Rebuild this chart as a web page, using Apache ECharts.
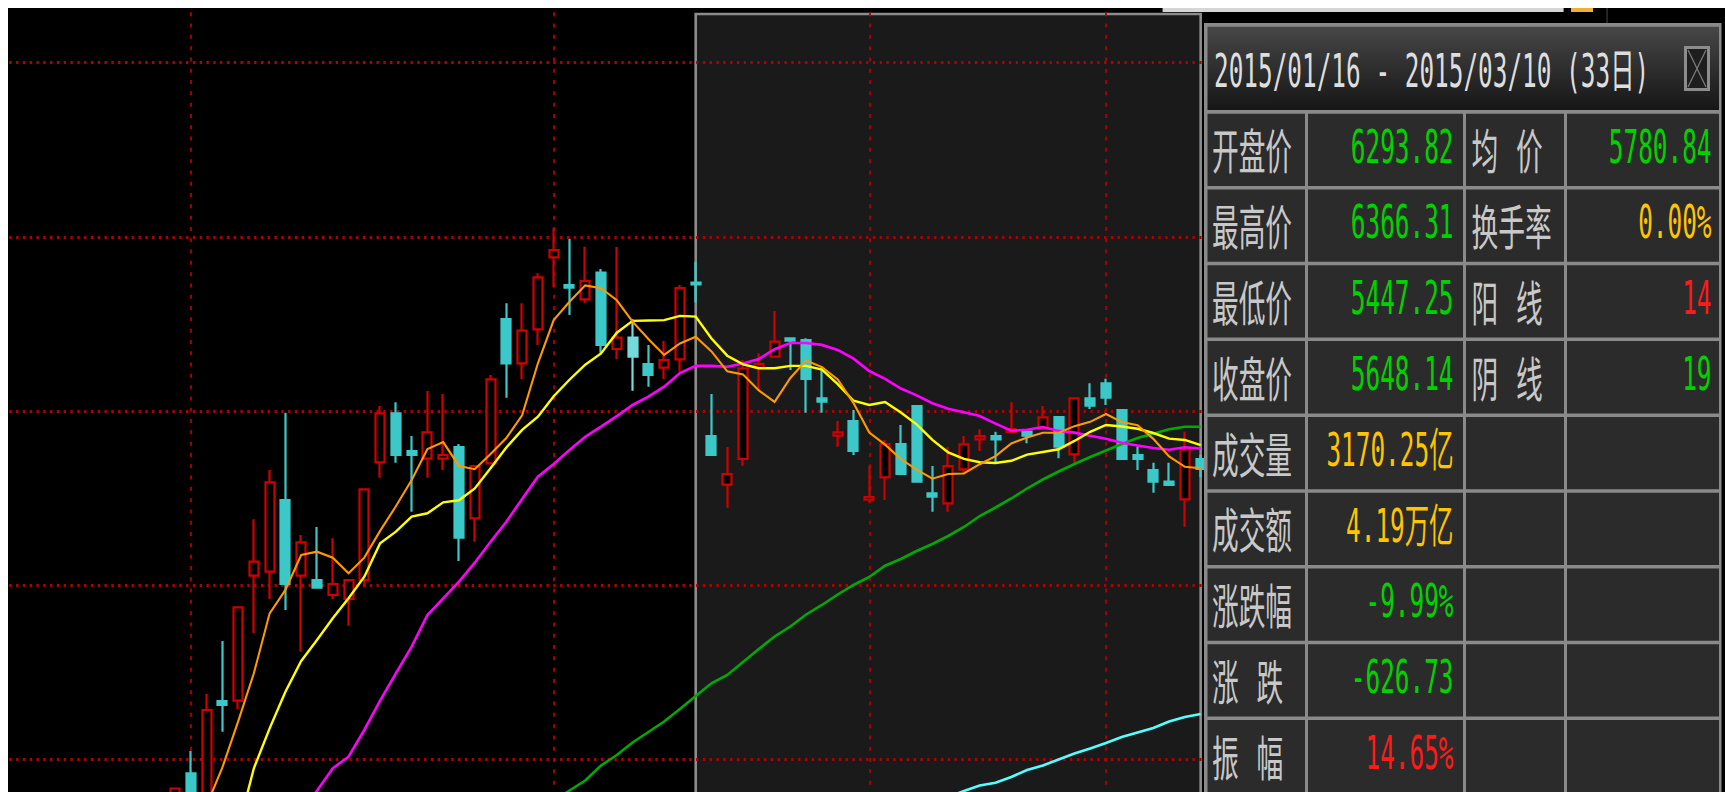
<!DOCTYPE html>
<html lang="zh-CN">
<head>
<meta charset="utf-8">
<title>区间统计 K线</title>
<script src="https://cdn.jsdelivr.net/npm/echarts@6.0.0/dist/echarts.min.js"></script>
<style>
html,body{margin:0;padding:0;background:#000;overflow:hidden;}
#chart{width:1725px;height:792px;}
</style>
</head>
<body>
<div id="chart"></div>
<script>
// ================= DATA =================
const dates = [
  '2014/11/14','2014/11/17','2014/11/18','2014/11/19','2014/11/20','2014/11/21','2014/11/24','2014/11/25','2014/11/26','2014/11/27','2014/11/28',
  '2014/12/01','2014/12/02','2014/12/03','2014/12/04','2014/12/05','2014/12/08','2014/12/09','2014/12/10','2014/12/11','2014/12/12',
  '2014/12/15','2014/12/16','2014/12/17','2014/12/18','2014/12/19','2014/12/22','2014/12/23','2014/12/24','2014/12/25','2014/12/26',
  '2014/12/29','2014/12/30','2014/12/31',
  '2015/01/05','2015/01/06','2015/01/07','2015/01/08','2015/01/09','2015/01/12','2015/01/13','2015/01/14','2015/01/15','2015/01/16',
  '2015/01/19','2015/01/20','2015/01/21','2015/01/22','2015/01/23','2015/01/26','2015/01/27','2015/01/28','2015/01/29','2015/01/30',
  '2015/02/02','2015/02/03','2015/02/04','2015/02/05','2015/02/06','2015/02/09','2015/02/10','2015/02/11','2015/02/12','2015/02/13',
  '2015/02/16','2015/02/17','2015/02/25','2015/02/26','2015/02/27',
  '2015/03/02','2015/03/03','2015/03/04','2015/03/05','2015/03/06','2015/03/09','2015/03/10'
];

// [open, close, low, high]
const candleStart = '2014/11/28';
const candles = [
  [4482.2,4539.4,4457.9,4539.4],[4592.1,4482.2,4471.8,4669.4],[4482.2,4811.6,4440.0,4867.1],[4842.8,4829.0,4736.4,5050.9],
  [4843.9,5167.8,4815.1,5167.8],[5277.4,5325.9,5077.6,5473.0],[5291.3,5601.3,5196.6,5643.9],[5539.9,5248.6,5158.4,5842.7],
  [5277.4,5393.2,5013.8,5418.5],[5262.5,5235.8,5235.8,5446.3],[5210.4,5248.6,5196.6,5407.1],[5196.6,5262.5,5104.0,5262.5],
  [5262.5,5577.0,5239.2,5577.0],[5670.7,5840.6,5617.2,5865.9],[5840.6,5696.0,5669.3,5878.7],[5709.8,5696.0,5499.3,5761.9],
  [5683.1,5774.7,5617.2,5917.9],[5683.1,5696.0,5643.9,5907.5],[5723.7,5409.2,5328.4,5734.1],[5476.4,5657.8,5395.3,5657.8],
  [5667.2,5958.5,5667.2,5973.4],[6167.6,6014.0,5894.7,6222.1],[6014.0,6127.0,5959.5,6222.1],[6131.9,6312.2,6077.4,6326.1],
  [6381.6,6406.9,6277.5,6482.2],[6285.5,6276.2,6181.5,6445.0],[6235.9,6299.4,6224.1,6418.3],[6328.2,6077.4,6050.7,6341.0],
  [6063.6,6102.8,6027.8,6417.3],[6102.8,6036.9,5919.0,6166.6],[6011.5,5973.4,5932.8,6077.4],[5998.7,6025.4,5959.5,6091.3],
  [6027.8,6274.87,5984.8,6285.5],[6293.82,6287.9,6224.8,6366.31],[5761.9,5696.0,5696.0,5907.5],[5593.0,5630.1,5513.2,5723.7],
  [5682.1,5995.9,5658.9,6025.4],[5998.7,6011.5,5921.4,6048.7],[6036.9,6088.9,6036.9,6195.4],[6100.7,6092.4,5990.7,6100.7],
  [6094.8,5959.5,5842.7,6100.7],[5892.6,5880.8,5842.7,6002.2],[5762.9,5774.7,5724.7,5813.9],[5813.9,5709.8,5696.0,5852.0],
  [5540.9,5550.3,5528.5,5658.9],[5618.6,5734.1,5539.9,5748.0],[5734.1,5630.1,5630.1,5800.0],[5865.9,5603.4,5603.4,5865.9],
  [5563.1,5551.3,5499.3,5657.8],[5528.5,5657.8,5499.3,5722.7],[5646.4,5733.1,5632.5,5761.9],[5750.4,5761.9,5709.8,5785.1],
  [5761.9,5750.4,5667.2,5776.8],[5775.7,5786.1,5772.3,5878.7],[5776.8,5762.9,5736.5,5776.8],[5788.6,5826.7,5788.6,5865.9],
  [5827.7,5724.7,5684.5,5827.7],[5698.4,5892.6,5669.3,5892.6],[5892.6,5866.9,5855.5,5944.6],[5944.6,5894.7,5869.4,5960.6],
  [5852.0,5682.1,5682.1,5852.0],[5696.0,5682.1,5643.9,5724.7],[5643.9,5603.4,5565.2,5669.3],[5603.4,5591.9,5591.9,5669.3],
  [5542.3,5715.7,5447.25,5776.8],[5682.1,5648.14,5619.7,5696.0]
];

const ma5Start = '2014/12/02';
const ma5 = [4480,4611.5,4771.0,4938.9,5146.9,5228,5349.2,5360.6,5339.8,5285.7,
  5340,5432.9,5518,5609,5716.9,5740.7,5658,5646.7,5699.2,5755,
  5833.3,6013.9,6163.7,6227.3,6284.3,6274.4,6232.5,6158.5,6098.0,6043.2,
  6082.7,6106,6055,5986,5975,5920,5880,5963,6024,6001,
  5958,5876,5774,5732,5682,5645,5613.8,5630,5632,5664,
  5692,5736,5757,5773,5773,5796,5811,5838,5810,5799,
  5752,5690.8,5655,5650];

const ma10Start = '2014/12/04';
const ma10 = [4398,4609.4,4748.0,4875.1,4981.6,5054.4,5129.6,5198.9,5273.9,5389.7,
  5430.0,5482.0,5493.8,5531.9,5539,5580,5650,5722,5783,5829,
  5900,5957,6009,6048,6120,6161.1,6162.6,6163.8,6178.5,6176.1,
  6100,6040.4,6010.1,5997,5997,6005,6005,5991.8,5941.8,5884.0,
  5869.4,5879.8,5843.2,5802.4,5748.6,5705.2,5682.5,5670.7,5668.2,5675.9,
  5697.1,5706.4,5715.8,5744.8,5776.3,5800.0,5794.9,5786.9,5772.2,5752.8,
  5748.1,5730.2];

const ma20Start = '2014/12/10';
const ma20 = [4458,4531.8,4609.4,4649.7,4742.3,4843.9,4938.9,5031.2,5141.1,5198.9,
  5256.6,5322.5,5395.3,5464.6,5543.4,5620.7,5664.7,5713.3,5759.4,5794.1,
  5831,5869.4,5898.1,5932.8,5980,6005.1,6005.1,6001.8,6012.9,6028.7,
  6062.7,6084.4,6084.4,6077.8,6060.2,6030.0,5987.2,5960.1,5926.6,5902.9,
  5875.4,5856.4,5844.4,5831.2,5805.0,5779.9,5783.3,5793.1,5779.5,5773.6,
  5762.5,5752.6,5738.7,5728.8,5720.2,5714.3,5722.6,5718.3];

const ma60Start = '2015/01/05';
const ma60 = [4496,4532.4,4567.1,4619.1,4655.6,4699.0,4735.3,4771.7,4815.1,4860.2,
  4904.2,4933.0,4978.1,5023.2,5066.5,5101.2,5142.8,5175.8,5212.2,5245.1,
  5272.9,5312.1,5335.3,5363.0,5387.3,5415.1,5446.3,5484.4,5513.9,5545.1,
  5579.8,5611.0,5638.7,5664.7,5689.0,5711.6,5734.1,5754.9,5770,5785,
  5794.1,5794.1];

const ma120Start = '2015/02/09';
const ma120 = [4510,4530.7,4549.8,4559.5,4579.3,4603.5,4619.1,4640.0,4660.8,4678.1,
  4697.2,4718.0,4733.6,4749.2,4771.7,4787.3,4797.7];

const gridPrices = [4639.3, 5243.6, 5847.9, 6452.2, 7056.5];
const monthStarts = ['2014/12/01','2015/01/05','2015/02/02','2015/03/02'];
const rangeStart = '2015/01/16';
const rangeEnd = '2015/03/10';
const highlightDate = '2015/01/12';

const rangeTitle = '2015/01/16 - 2015/03/10 (33日)';
const statLabels = ['开盘价','最高价','最低价','收盘价','成交量','成交额','涨跌幅','涨  跌','振  幅'];
const statValues = ['6293.82','6366.31','5447.25','5648.14','3170.25亿','4.19万亿','-9.99%','-626.73','14.65%'];
const extraLabels = ['均  价','换手率','阳  线','阴  线'];
const extraValues = ['5780.84','0.00%','14','19'];

// ================= STYLE / LAYOUT =================
const C = {
  up: '#d00000', down: '#3cc8c8', downHi: '#74dada', hollow: '#000',
  ma5: '#ff9900', ma10: '#ffff00', ma20: '#ff00ff', ma60: '#00aa00', ma120: '#55ffff',
  grid: '#b40000', selFill: '#1a1a1a', selBorder: '#8c8c8c',
  panelLine: '#8a8a8a', cell: '#2b2b2b', label: '#c8c8c8', title: '#dedede',
  tone: { down: '#00d200', flat: '#ffc400', up: '#ff1a1a' }
};
const statTone = ['down','down','down','down','flat','flat','down','down','up'];
const extraTone = ['down','flat','up','down'];

// plot area runs past the bottom of the window (the view is cropped there)
const Y_MIN = 4200, Y_MAX = 7246.15;
const GRID_TOP = 8, GRID_H = 878.36;
const BAND = 15.78, GRID_LEFT = 9.27;
const SEL_TOP_PX = 14;

function align(start, values) {
  const i0 = dates.indexOf(start);
  return dates.map((d, i) => (i >= i0 && i - i0 < values.length) ? values[i - i0] : '-');
}
const candleData = align(candleStart, candles).map((v, i) => {
  if (v === '-') return ['-', '-', '-', '-'];
  if (dates[i] === highlightDate) return { value: v, itemStyle: { color0: C.downHi, borderColor0: C.downHi } };
  return v;
});
const pxToPrice = px => Y_MAX - (px - GRID_TOP) * (Y_MAX - Y_MIN) / GRID_H;

function maSeries(name, start, values, color, width) {
  return {
    name, type: 'line', data: align(start, values), z: 4, silent: true,
    showSymbol: false, symbol: 'none', connectNulls: false,
    lineStyle: { color, width, cap: 'butt', join: 'miter' }
  };
}

// ================= PANEL (graphic) =================
const FONT_LABEL = { font: '48px "Noto Sans CJK SC"', sx: 0.556 };
const FONT_VALUE = { font: '46px "DejaVu Sans Mono", "Noto Sans CJK SC"', sx: 0.53 };
const PANEL = { x0: 1204, y0: 23, x1: 1721.5, y1: 800, titleTop: 26.7, titleBottom: 110,
  cols: [[1207.5, 1305], [1308, 1463], [1466, 1564], [1567, 1719]],
  rowTop: 113.7, rowStep: 75.8, rowH: 72.3 };

function text(x, y, str, fill, f, al) {
  return { type: 'text', x, y, scaleX: f.sx, scaleY: 1, z: 103, silent: true,
    style: { text: str, fill, font: f.font, align: al, verticalAlign: 'middle',
             textAlign: al, textVerticalAlign: 'middle' } };
}
const sp = s => s.replace(/ /g, '\u2004');

const g = [];
g.push({ type: 'rect', z: 110, silent: true, shape: { x: 0, y: 0, width: 1725, height: 8 }, style: { fill: '#ffffff' } });
g.push({ type: 'rect', z: 110, silent: true, shape: { x: 0, y: 0, width: 8, height: 792 }, style: { fill: '#ffffff' } });
g.push({ type: 'rect', z: 110, silent: true, shape: { x: 1162.6, y: 8, width: 401, height: 4 }, style: { fill: '#d6d6d6' } });
g.push({ type: 'rect', z: 110, silent: true, shape: { x: 1571, y: 8, width: 22, height: 4 }, style: { fill: '#f0b030' } });
g.push({ type: 'rect', z: 110, silent: true, shape: { x: 1606.5, y: 8, width: 1.2, height: 15 }, style: { fill: '#3a3a3a' } });
g.push({ type: 'rect', z: 100, silent: true,
  shape: { x: PANEL.x0, y: PANEL.y0, width: PANEL.x1 - PANEL.x0, height: PANEL.y1 - PANEL.y0 },
  style: { fill: C.panelLine } });
g.push({ type: 'rect', z: 101, silent: true,
  shape: { x: PANEL.cols[0][0], y: PANEL.titleTop, width: PANEL.cols[3][1] - PANEL.cols[0][0], height: PANEL.titleBottom - PANEL.titleTop },
  style: { fill: new echarts.graphic.LinearGradient(0, 0, 0, 1, [
    { offset: 0, color: '#474747' }, { offset: 0.5, color: '#2e2e2e' }, { offset: 1, color: '#161616' }]) } });
for (let r = 0; r < statLabels.length; r++) {
  const top = PANEL.rowTop + r * PANEL.rowStep;
  for (let c = 0; c < 4; c++) {
    g.push({ type: 'rect', z: 101, silent: true,
      shape: { x: PANEL.cols[c][0], y: top, width: PANEL.cols[c][1] - PANEL.cols[c][0], height: PANEL.rowH },
      style: { fill: C.cell } });
  }
  g.push(text(1212, top + 34.6, sp(statLabels[r]), C.label, FONT_LABEL, 'left'));
  g.push(text(1453.5, top + 33.2, statValues[r], C.tone[statTone[r]], FONT_VALUE, 'right'));
  if (r < extraLabels.length) {
    g.push(text(1471.6, top + 34.6, sp(extraLabels[r]), C.label, FONT_LABEL, 'left'));
    g.push(text(1711.5, top + 33.2, extraValues[r], C.tone[extraTone[r]], FONT_VALUE, 'right'));
  }
}
g.push(text(1214, 71.7, rangeTitle, C.title, FONT_VALUE, 'left'));
g.push({ type: 'rect', z: 104, silent: true, shape: { x: 1685.5, y: 47.5, width: 23, height: 42 },
  style: { fill: '#1e1e1e', stroke: '#8c8c8c', lineWidth: 3 } });
g.push({ type: 'line', z: 105, silent: true, shape: { x1: 1688, y1: 50, x2: 1706, y2: 87 }, style: { stroke: '#7a7a7a', lineWidth: 1.3 } });
g.push({ type: 'line', z: 105, silent: true, shape: { x1: 1706, y1: 50, x2: 1688, y2: 87 }, style: { stroke: '#7a7a7a', lineWidth: 1.3 } });

// ================= CHART =================
const chart = echarts.init(document.getElementById('chart'), null, { renderer: 'svg', width: 1725, height: 792 });
chart.setOption({
  animation: false,
  backgroundColor: '#000',
  tooltip: { show: false },
  grid: { left: GRID_LEFT, top: GRID_TOP, width: dates.length * BAND, height: GRID_H,
          containLabel: false, outerBoundsMode: 'none' },
  xAxis: { type: 'category', data: dates, boundaryGap: true, show: false,
    axisLine: { show: false }, axisTick: { show: false }, axisLabel: { show: false }, splitLine: { show: false } },
  yAxis: { type: 'value', min: Y_MIN, max: Y_MAX, show: false,
    axisLine: { show: false }, axisTick: { show: false }, axisLabel: { show: false }, splitLine: { show: false } },
  graphic: { elements: g },
  series: [
    {
      name: 'K', type: 'candlestick', data: candleData, z: 3, silent: true,
      barWidth: 9.5,
      itemStyle: { color: C.hollow, color0: C.down, borderColor: C.up, borderColor0: C.down, borderWidth: 2.2 },
      markArea: {
        z: 1, silent: true, label: { show: false },
        itemStyle: { color: C.selFill, borderColor: C.selBorder, borderWidth: 2.6 },
        data: [[{ xAxis: rangeStart, yAxis: pxToPrice(SEL_TOP_PX) }, { xAxis: rangeEnd, yAxis: Y_MIN }]]
      },
      markLine: {
        z: 2, silent: true, symbol: ['none', 'none'], label: { show: false }, animation: false,
        data: [
          ...gridPrices.map(v => ({ yAxis: v, lineStyle: { color: C.grid, width: 3.2, type: [2.3, 4.5], cap: 'butt' } })),
          ...monthStarts.map(d => ({ xAxis: d, lineStyle: { color: C.grid, width: 1.8, type: [4, 7.3], cap: 'butt' } }))
        ]
      }
    },
    maSeries('MA120', ma120Start, ma120, C.ma120, 2.6),
    maSeries('MA60', ma60Start, ma60, C.ma60, 2.6),
    maSeries('MA20', ma20Start, ma20, C.ma20, 2.6),
    maSeries('MA10', ma10Start, ma10, C.ma10, 2.4),
    maSeries('MA5', ma5Start, ma5, C.ma5, 2.1)
  ]
});
</script>
</body>
</html>
